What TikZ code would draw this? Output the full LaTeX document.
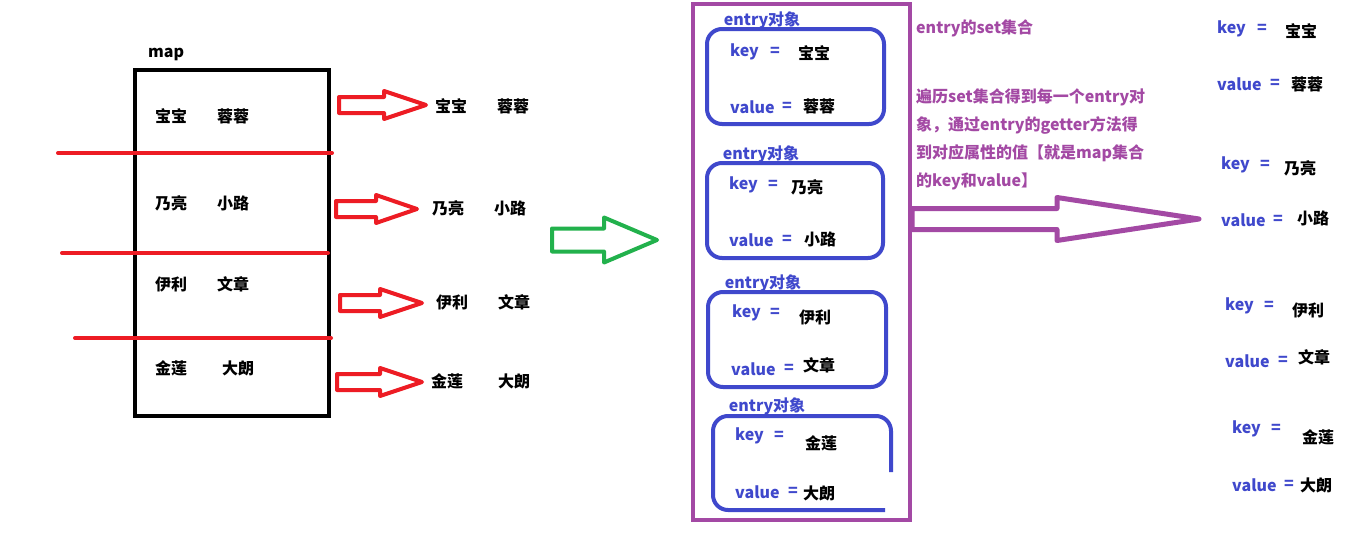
\documentclass[tikz,border=0pt]{standalone}
\usepackage{fontspec}
\setmainfont{Noto Sans CJK SC}
\definecolor{pRed}{HTML}{ED1C24}
\definecolor{pGreen}{HTML}{22B14C}
\definecolor{pBlue}{HTML}{3F48CC}
\definecolor{pPurple}{HTML}{A349A4}
% block arrow: style, tail x, head x, tip x, centre y, shaft half, head half
\newcommand\blockarr[7]{\draw[#1] (#2,#5-#6) -- (#3,#5-#6) -- (#3,#5-#7) -- (#4,#5) -- (#3,#5+#7) -- (#3,#5+#6) -- (#2,#5+#6) -- cycle;}
\begin{document}
\begin{tikzpicture}[x=1pt,y=-1pt,
  txt/.style={inner sep=0pt, font=\fontsize{16}{19}\selectfont\bfseries},
  cjk/.style={txt},
  blu/.style={txt,text=pBlue},
  pur/.style={txt,text=pPurple},
  redarrow/.style={draw=pRed,line width=4pt,line join=round},
  redline/.style={draw=pRed,line width=4pt,line cap=round},
  greenarrow/.style={draw=pGreen,line width=4pt,line join=round},
  purplearrow/.style={draw=pPurple,line width=5pt,line join=round},
  bluebox/.style={draw=pBlue,line width=4pt,rounded corners=15pt}]
\fill[white] (0,0) rectangle (1360,538);
\useasboundingbox (0,0) rectangle (1360,538);

% ---------- map ----------
\node[txt,anchor=west] (maplbl) at (148,54) {map};
\draw[line width=4pt] (135,70) rectangle (329,416);
\draw[redline] (58,153) -- (332,153);
\draw[redline] (62,253) -- (328,253);
\draw[redline] (75,338) -- (331,338);

\node[cjk] (m1k) at (171,116) {宝宝};
\node[cjk] (m1v) at (233,116) {蓉蓉};
\node[cjk] (m2k) at (171,203) {乃亮};
\node[cjk] (m2v) at (233,203) {小路};
\node[cjk] (m3k) at (171,284) {伊利};
\node[cjk] (m3v) at (233,284) {文章};
\node[cjk] (m4k) at (171,368) {金莲};
\node[cjk] (m4v) at (238,368) {大朗};

% red arrows
\blockarr{redarrow}{339}{384}{426}{105}{8}{14}
\blockarr{redarrow}{336}{376}{417}{209}{8}{14}
\blockarr{redarrow}{340}{380}{422}{303}{8}{14}
\blockarr{redarrow}{337}{380}{422}{382}{8}{14}

\node[cjk] (r1k) at (451,106) {宝宝};
\node[cjk] (r1v) at (513,106) {蓉蓉};
\node[cjk] (r2k) at (448,208) {乃亮};
\node[cjk] (r2v) at (510,208) {小路};
\node[cjk] (r3k) at (452,302) {伊利};
\node[cjk] (r3v) at (514,302) {文章};
\node[cjk] (r4k) at (447,381) {金莲};
\node[cjk] (r4v) at (514,381) {大朗};

% green arrow
\blockarr{greenarrow}{552}{604}{657}{240}{11.5}{22.5}

% ---------- entry set ----------
\draw[draw=pPurple,line width=4pt] (693,4) rectangle (910,520);

\draw[bluebox] (707,29) rectangle (884,124);
\draw[bluebox] (707,163) rectangle (883,258);
\draw[bluebox] (708,292) rectangle (886,387);
\draw[bluebox] (891,472) -- (891,416) -- (713,416) -- (713,510) -- (885,510);

\node[blu] (e1) at (762,20) {entry对象};
\node[blu] (e2) at (761,154) {entry对象};
\node[blu] (e3) at (763,283) {entry对象};
\node[blu] (e4) at (767,406) {entry对象};

\node[blu,anchor=west] (b1k) at (730,52) {key};
\node[blu] (b1ke) at (775,52) {=};
\node[cjk] (b1kv) at (814,53) {宝宝};
\node[blu,anchor=west] (b1v) at (730,107) {value};
\node[blu] (b1ve) at (787,107) {=};
\node[cjk] (b1vv) at (819,106) {蓉蓉};

\node[blu,anchor=west] (b2k) at (729,185) {key};
\node[blu] (b2ke) at (773,185) {=};
\node[cjk] (b2kv) at (807,187) {乃亮};
\node[blu,anchor=west] (b2v) at (729,240) {value};
\node[blu] (b2ve) at (787,240) {=};
\node[cjk] (b2vv) at (820,239) {小路};

\node[blu,anchor=west] (b3k) at (732,313) {key};
\node[blu] (b3ke) at (775,313) {=};
\node[cjk] (b3kv) at (815,317) {伊利};
\node[blu,anchor=west] (b3v) at (731,369) {value};
\node[blu] (b3ve) at (789,369) {=};
\node[cjk] (b3vv) at (819,365) {文章};

\node[blu,anchor=west] (b4k) at (735,436) {key};
\node[blu] (b4ke) at (779,436) {=};
\node[cjk] (b4kv) at (821,443) {金莲};
\node[blu,anchor=west] (b4v) at (735,492) {value};
\node[blu] (b4ve) at (793,492) {=};
\node[cjk] (b4vv) at (819,493) {大朗};

% purple texts
\node[pur,anchor=west] (settitle) at (916,28) {entry的set集合};
\node[pur,anchor=north west,align=left,font=\fontsize{16}{27.7}\selectfont\bfseries] (expl) at (916,89)
  {遍历set集合得到每一个entry对\\象，通过entry的getter方法得\\到对应属性的值【就是map集合\\的key和value】};

% purple arrow
\blockarr{purplearrow}{912}{1057}{1199}{219}{10.5}{21.5}

% ---------- right column ----------
\node[blu,anchor=west] (c1k) at (1217,29) {key};
\node[blu] (c1ke) at (1262,29) {=};
\node[cjk] (c1kv) at (1301,31) {宝宝};
\node[blu,anchor=west] (c1v) at (1217,84) {value};
\node[blu] (c1ve) at (1275,84) {=};
\node[cjk] (c1vv) at (1307,84) {蓉蓉};

\node[blu,anchor=west] (c2k) at (1221,165) {key};
\node[blu] (c2ke) at (1265,165) {=};
\node[cjk] (c2kv) at (1300,168) {乃亮};
\node[blu,anchor=west] (c2v) at (1221,220) {value};
\node[blu] (c2ve) at (1278,220) {=};
\node[cjk] (c2vv) at (1313,218) {小路};

\node[blu,anchor=west] (c3k) at (1225,306) {key};
\node[blu] (c3ke) at (1269,306) {=};
\node[cjk] (c3kv) at (1308,310) {伊利};
\node[blu,anchor=west] (c3v) at (1225,361) {value};
\node[blu] (c3ve) at (1283,361) {=};
\node[cjk] (c3vv) at (1314,357) {文章};

\node[blu,anchor=west] (c4k) at (1232,429) {key};
\node[blu] (c4ke) at (1276,429) {=};
\node[cjk] (c4kv) at (1318,437) {金莲};
\node[blu,anchor=west] (c4v) at (1232,485) {value};
\node[blu] (c4ve) at (1289,485) {=};
\node[cjk] (c4vv) at (1316,485) {大朗};
\end{tikzpicture}
\end{document}
